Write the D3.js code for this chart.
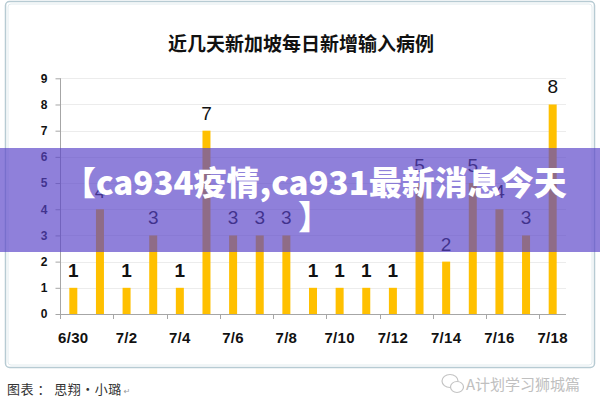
<!DOCTYPE html>
<html><head><meta charset="utf-8">
<script src="https://cdn.jsdelivr.net/npm/d3@7/dist/d3.min.js"></script>
<style>html,body{margin:0;padding:0;background:#fff;}svg{display:block;}</style>
</head><body>
<svg id="c" width="600" height="400"></svg>
<script>
const dates = ["6/30","7/1","7/2","7/3","7/4","7/5","7/6","7/7","7/8","7/9","7/10","7/11","7/12","7/13","7/14","7/15","7/16","7/17","7/18"];
const cases = [1,4,1,3,1,7,3,3,3,1,1,1,1,5,2,5,4,3,8];
const yTicks = [0,1,2,3,4,5,6,7,8,9];
const title = "近几天新加坡每日新增输入病例";
const bannerLines = ["【ca934疫情,ca931最新消息今天", "】"];
const footer = "图表 ： 思翔•小璐";
const watermark = "A计划学习狮城篇";

const svg = d3.select("#c");
svg.append("rect").attr("width",600).attr("height",400).attr("fill","#fff");

// frame
svg.append("rect").attr("x",5.5).attr("y",1.5).attr("width",589).attr("height",366)
  .attr("rx",4).attr("fill","none").attr("stroke","#b7cbd3").attr("stroke-width",1.5);
svg.append("rect").attr("x",8).attr("y",4).attr("width",584).attr("height",361)
  .attr("rx",3).attr("fill","none").attr("stroke","#e2ecef").attr("stroke-width",1);

// title
svg.append("text").attr("x",301).attr("y",42).attr("text-anchor","middle")
  .attr("dominant-baseline","central")
  .style("font-family","'Noto Sans CJK SC'").style("font-weight","bold")
  .style("font-size","19px").attr("fill","#111").text(title);

const x0 = 60, x1 = 566, yB = 314, yT = 78.3;
const x = d3.scaleBand().domain(dates).range([x0, x1]).padding(0);
const y = d3.scaleLinear().domain([0, 9]).range([yB, yT]);

// gridlines
svg.append("g").selectAll("line").data(yTicks.filter(d => d > 0)).join("line")
  .attr("x1",x0).attr("x2",x1).attr("y1",d=>Math.round(y(d))+0.5).attr("y2",d=>Math.round(y(d))+0.5)
  .attr("stroke","#ececec");

// y axis
const yAxis = svg.append("g").attr("transform",`translate(${x0+0.5},0)`)
  .call(d3.axisLeft(y).tickValues(yTicks).tickSize(5).tickPadding(8).tickFormat(d3.format("d")));
yAxis.selectAll(".tick line").attr("stroke","#a6a6a6");
yAxis.selectAll(".tick text").style("font-family","'Liberation Sans', Arial").style("font-weight","bold")
  .style("font-size","12px").attr("fill","#111");
yAxis.select(".domain").attr("stroke","#a6a6a6").attr("d",`M0,${yT}V${yB+5}`);

// x axis line
svg.append("line").attr("x1",x0).attr("x2",x1).attr("y1",yB+0.5).attr("y2",yB+0.5).attr("stroke","#a6a6a6");
// x tick marks at every other category boundary
const tickDates = dates.filter((d,i)=> i % 2 === 0);
svg.append("g").selectAll("line").data(tickDates).join("line")
  .attr("x1",d=>Math.round(x(d))+0.5).attr("x2",d=>Math.round(x(d))+0.5)
  .attr("y1",yB).attr("y2",yB+5).attr("stroke","#a6a6a6");
// x labels
svg.append("g").selectAll("text").data(tickDates).join("text")
  .attr("x",d=>x(d)+x.bandwidth()/2).attr("y",337).attr("text-anchor","middle")
  .attr("dominant-baseline","central")
  .style("font-family","'Liberation Sans', Arial").style("font-weight","bold").style("font-size","15px")
  .style("letter-spacing","0.3px")
  .attr("fill","#111").text(d=>d);

// bars
const bw = 8;
svg.append("g").selectAll("rect").data(dates).join("rect")
  .attr("x",d=>x(d)+x.bandwidth()/2-bw/2).attr("width",bw)
  .attr("y",(d,i)=>y(cases[i])).attr("height",(d,i)=>yB-y(cases[i]))
  .attr("fill","#FFC000");

// value labels
svg.append("g").selectAll("text").data(dates).join("text")
  .attr("x",d=>x(d)+x.bandwidth()/2).attr("y",(d,i)=>y(cases[i])-11)
  .attr("text-anchor","middle")
  .style("font-family","'Liberation Sans Narrow', 'Liberation Sans'").style("font-size","19px")
  .style("font-weight",(d,i)=>cases[i]===1 ? "bold" : "normal")
  .attr("fill","#111").text((d,i)=>cases[i]);

// banner overlay
svg.append("rect").attr("x",0).attr("y",148).attr("width",600).attr("height",104)
  .attr("fill","rgb(89,67,200)").attr("fill-opacity",0.675);
svg.append("g").selectAll("text").data(bannerLines).join("text")
  .attr("x",(d,i)=> i===0 ? 63 : 298).attr("y",(d,i)=>195 + i*34)
  .style("font-family","'Noto Sans CJK SC'").style("font-weight","900").style("font-size","33px")
  .attr("fill","#fff").text(d=>d);

// footer
const ft = svg.append("text").attr("x",7).attr("y",388).attr("dominant-baseline","central")
  .style("font-family","'Noto Sans CJK SC'").style("font-size","13px").attr("fill","#333")
  .style("letter-spacing","0.5px")
  .attr("xml:space","preserve").text(footer);
const fEnd = 7 + ft.node().getComputedTextLength() + 2;
svg.append("text").attr("x",fEnd).attr("y",391).attr("dominant-baseline","central")
  .style("font-family","'DejaVu Sans'").style("font-size","8px").attr("fill","#999").text("↵");

// watermark
const wm = svg.append("g").attr("fill","none").attr("stroke","#c4c4c4").attr("stroke-width",1.2);
wm.append("ellipse").attr("cx",450).attr("cy",381).attr("rx",8).attr("ry",6.5);
wm.append("ellipse").attr("cx",457).attr("cy",387).attr("rx",6.5).attr("ry",5.5).attr("fill","#fff");
svg.append("text").attr("x",466).attr("y",383).attr("dominant-baseline","central")
  .style("font-family","'Noto Sans CJK SC'").style("font-size","15px").attr("fill","#c0c0c0").text(watermark);
</script>
</body></html>
